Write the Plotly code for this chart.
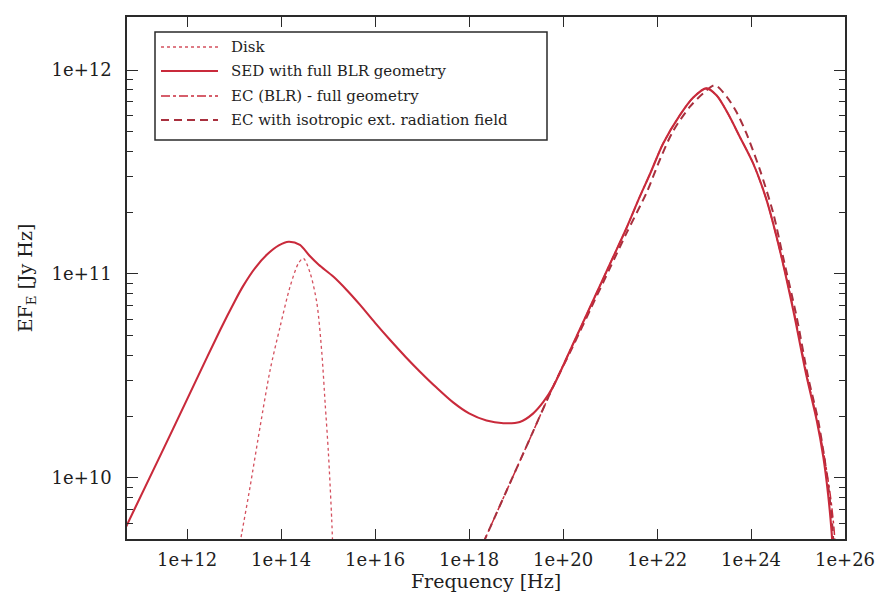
import numpy as np
import plotly.graph_objects as go

# Spectral energy distribution components: log10(frequency / Hz) and log10(EF_E / Jy Hz)
disk_lognu = [13.10, 13.164, 13.34, 13.553, 13.766, 13.979, 14.191, 14.368, 14.474,
              14.617, 14.76, 14.866, 14.936, 15.006, 15.077, 15.10]
disk_logf = [9.65, 9.73, 9.957, 10.251, 10.529, 10.742, 10.938, 11.052, 11.077,
             11.005, 10.858, 10.613, 10.368, 10.123, 9.794, 9.65]

sed_lognu = [10.70, 11.20, 11.70, 12.20, 12.70, 13.00, 13.19, 13.45, 13.70, 13.95, 14.16,
             14.40, 14.60, 14.80, 15.11, 15.40, 15.68, 16.00, 16.32, 16.65, 16.95, 17.30,
             17.66, 18.00, 18.37, 18.73, 19.08, 19.36, 19.58, 19.79, 20.20, 20.60, 21.00,
             21.35, 21.635, 21.85, 22.13, 22.49, 22.77, 23.05, 23.27, 23.50, 23.76, 24.05,
             24.33, 24.61, 24.90, 25.18, 25.40, 25.54, 25.64, 25.71, 25.74]
sed_logf = [9.76, 10.00, 10.24, 10.483, 10.724, 10.86, 10.94, 11.03, 11.095, 11.14, 11.158,
            11.142, 11.09, 11.045, 10.987, 10.92, 10.848, 10.760, 10.676, 10.593, 10.522, 10.444,
            10.370, 10.316, 10.281, 10.268, 10.274, 10.315, 10.372, 10.448, 10.65, 10.85, 11.05,
            11.225, 11.38, 11.49, 11.64, 11.78, 11.865, 11.91, 11.875, 11.79, 11.673, 11.54,
            11.363, 11.12, 10.82, 10.50, 10.28, 10.10, 9.92, 9.75, 9.65]

ec_blr_lognu = [18.30, 18.80, 19.30, 19.79, 20.20, 20.60, 21.00, 21.35, 21.635, 21.85,
                22.13, 22.49, 22.77, 23.05, 23.27, 23.50, 23.76, 24.05, 24.33, 24.61,
                24.92, 25.20, 25.42, 25.57, 25.69, 25.77, 25.79]
ec_blr_logf = [9.68, 9.938, 10.195, 10.448, 10.65, 10.85, 11.05, 11.225, 11.38, 11.49,
               11.64, 11.78, 11.865, 11.91, 11.875, 11.79, 11.673, 11.54, 11.363, 11.12,
               10.81, 10.49, 10.27, 10.09, 9.91, 9.74, 9.65]

ec_iso_lognu = [18.30, 18.80, 19.30, 19.79, 20.20, 20.60, 21.00, 21.35, 21.78, 22.06,
                22.34, 22.70, 22.98, 23.23, 23.48, 23.70, 23.90, 24.19, 24.47, 24.68,
                24.97, 25.21, 25.43, 25.56, 25.665, 25.735, 25.76]
ec_iso_logf = [9.68, 9.938, 10.195, 10.448, 10.64, 10.835, 11.03, 11.20, 11.40, 11.56,
               11.70, 11.82, 11.885, 11.925, 11.87, 11.79, 11.69, 11.51, 11.30, 11.085,
               10.79, 10.50, 10.28, 10.10, 9.92, 9.75, 9.65]

x_tick_vals = [1e12, 1e14, 1e16, 1e18, 1e20, 1e22, 1e24, 1e26]
x_tick_text = ["1e+12", "1e+14", "1e+16", "1e+18", "1e+20", "1e+22", "1e+24", "1e+26"]
y_tick_vals = [1e10, 1e11, 1e12]
y_tick_text = ["1e+10", "1e+11", "1e+12"]
y_minor_vals = [m * 10.0 ** e for e in (9, 10, 11) for m in range(2, 10)]

legend_labels = ["Disk", "SED with full BLR geometry", "EC (BLR) - full geometry",
                 "EC with isotropic ext. radiation field"]

RED = "#c92a3b"
DARK_RED = "#a8303e"
AXIS = "#2a2a2a"
TEXT = "#1e1e1e"
FONT = "DejaVu Serif"

disk_style = dict(color="#d4505e", width=1.3, dash="dot")
blr_style = dict(color=RED, width=1.5, dash="dashdot")
iso_style = dict(color=DARK_RED, width=2.0, dash="8px,5px")
sed_style = dict(color=RED, width=2.1, dash="solid")

series = [
    (disk_lognu, disk_logf, disk_style),
    (ec_blr_lognu, ec_blr_logf, blr_style),
    (ec_iso_lognu, ec_iso_logf, iso_style),
    (sed_lognu, sed_logf, sed_style),
]
legend_styles = [disk_style, sed_style, blr_style, iso_style]

fig = go.Figure()
for lognu, logf, style in series:
    fig.add_trace(go.Scatter(
        x=10 ** np.array(lognu), y=10 ** np.array(logf), mode="lines",
        line=dict(shape="spline", smoothing=0.8, **style),
        showlegend=False, hoverinfo="skip"))

W, H = 892, 599
ML, MR, MT, MB = 127, 47, 17, 60
pw, ph = W - ML - MR, H - MT - MB


def px_x(px):
    return (px - ML) / pw


def px_y(py):
    return (H - MB - py) / ph


# Legend drawn as a framed box with line samples and labels
shapes = [dict(type="rect", xref="paper", yref="paper",
               x0=px_x(155), x1=px_x(547), y0=px_y(140), y1=px_y(32),
               line=dict(color=AXIS, width=1.5), fillcolor="white")]
annotations = []
rows = [47, 71, 96, 120]
for label, style, py in zip(legend_labels, legend_styles, rows):
    shapes.append(dict(type="line", xref="paper", yref="paper",
                       x0=px_x(161), x1=px_x(218), y0=px_y(py), y1=px_y(py),
                       line=dict(color=style["color"], width=style["width"],
                                 dash=style["dash"])))
    annotations.append(dict(text=label, xref="paper", yref="paper",
                            x=px_x(229), y=px_y(py), xanchor="left", yanchor="middle",
                            showarrow=False, font=dict(family=FONT, size=15, color=TEXT)))

fig.update_layout(
    width=W, height=H,
    margin=dict(l=ML, r=MR, t=MT, b=MB),
    paper_bgcolor="white", plot_bgcolor="white",
    shapes=shapes, annotations=annotations,
    xaxis=dict(
        type="log", range=[10.72, 26], tickvals=x_tick_vals, ticktext=x_tick_text,
        ticks="inside", ticklen=10, tickwidth=1.3, tickcolor=AXIS,
        showline=True, linecolor=AXIS, linewidth=1.5, mirror="ticks",
        showgrid=False, zeroline=False, ticklabelstandoff=4,
        tickfont=dict(family=FONT, size=18, color=TEXT),
        title=dict(text="Frequency [Hz]", standoff=2,
                   font=dict(family=FONT, size=19, color=TEXT))),
    yaxis=dict(
        type="log", range=[9.70, 12.26], tickvals=y_tick_vals, ticktext=y_tick_text,
        ticks="inside", ticklen=11, tickwidth=1.3, tickcolor=AXIS,
        minor=dict(tickvals=y_minor_vals, ticks="inside", ticklen=6,
                   tickwidth=1.1, tickcolor=AXIS),
        showline=True, linecolor=AXIS, linewidth=1.5, mirror="ticks",
        showgrid=False, zeroline=False, ticklabelstandoff=10,
        tickfont=dict(family=FONT, size=18, color=TEXT),
        title=dict(text="EF<sub>E</sub> [Jy Hz]", standoff=14,
                   font=dict(family=FONT, size=19, color=TEXT))),
)

fig.write_html("out.html")
